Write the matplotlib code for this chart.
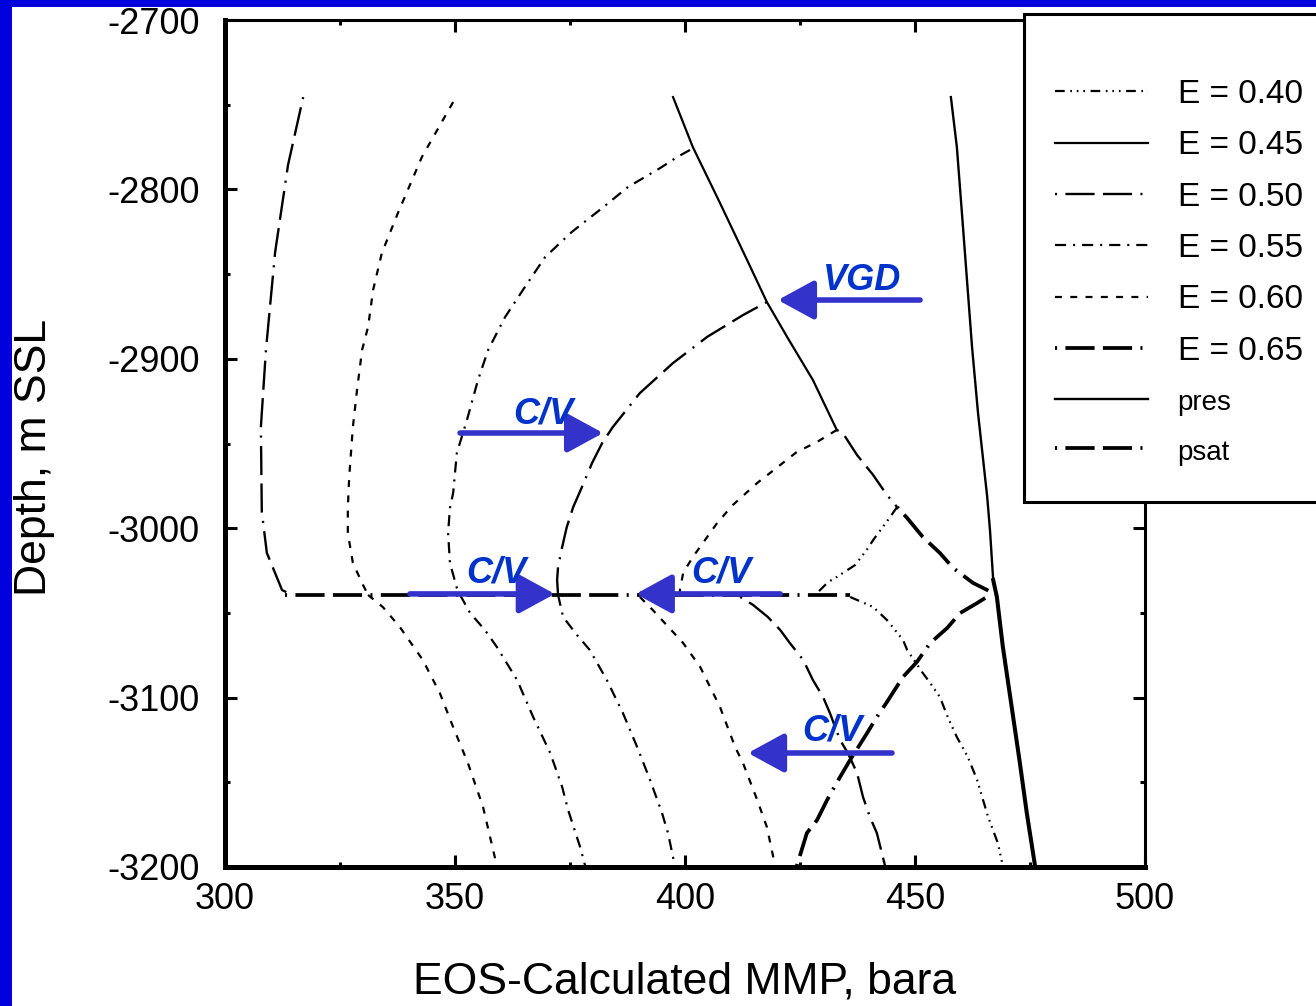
import matplotlib
matplotlib.use('Agg')
import matplotlib.pyplot as plt
from matplotlib.patches import Rectangle
from matplotlib.lines import Line2D

plt.rcParams['font.family'] = ['Liberation Sans', 'DejaVu Sans']
plt.rcParams['lines.scale_dashes'] = False
plt.rcParams['axes.unicode_minus'] = False

# ---------------- data (MMP in bara, depth in m SSL) ----------------
x_ticks = [300, 350, 400, 450, 500]
x_tick_labels = ['300', '350', '400', '450', '500']
y_ticks = [-3200, -3100, -3000, -2900, -2800, -2700]
y_tick_labels = ['-3200', '-3100', '-3000', '-2900', '-2800', '-2700']

legend_keys = ['E040', 'E045', 'E050', 'E055', 'E060', 'E065', 'pres', 'psat']
legend_labels = ['E = 0.40', 'E = 0.45', 'E = 0.50', 'E = 0.55', 'E = 0.60', 'E = 0.65', 'pres', 'psat']

# upper (above psat) branches
a_x = [317.0, 313.7, 310.9, 308.9, 307.8, 308.0, 309.1, 312.4, 314.6]
a_d = [-2745.5, -2785.6, -2837.0, -2894.8, -2940.3, -2990.4, -3014.6, -3036.5, -3039.4]

b_x = [349.6, 342.8, 337.6, 334.1, 332.2, 331.1, 329.8, 328.7, 327.8, 327.0, 326.7, 326.7, 327.8, 330.0, 331.1]
b_d = [-2748.4, -2780.9, -2813.9, -2837.5, -2859.4, -2881.2, -2894.8, -2918.4, -2940.3, -2969.8,
       -2988.1, -3002.8, -3020.5, -3033.5, -3039.4]

c_x = [401.1, 398.3, 394.6, 387.6, 382.0, 375.4, 369.6, 365.2, 360.9, 357.2, 355.0, 352.6, 350.4,
       349.6, 348.9, 348.5, 348.9, 350.4, 351.1]
c_d = [-2776.7, -2780.9, -2787.4, -2798.6, -2811.0, -2825.1, -2839.9, -2857.6, -2875.3, -2894.8,
       -2912.5, -2936.1, -2955.6, -2979.2, -2988.1, -3002.8, -3020.5, -3035.3, -3039.4]

vgd_x = [417.8, 412.6, 404.8, 397.4, 390.2, 384.3, 382.0, 379.8, 377.6, 375.7, 374.3, 373.3, 372.4, 372.2, 372.4]
vgd_d = [-2866.5, -2874.2, -2887.1, -2902.5, -2920.2, -2940.3, -2949.7, -2961.5, -2975.7, -2987.5,
         -2999.3, -3011.1, -3022.9, -3030.6, -3039.4]

e_x = [433.0, 428.7, 424.3, 420.7, 415.7, 410.4, 407.0, 403.9, 401.7, 399.6, 398.9, 398.9]
e_d = [-2942.0, -2949.1, -2955.0, -2962.7, -2973.3, -2986.3, -2996.9, -3008.7, -3017.0, -3026.4, -3036.5, -3039.4]

f_x = [446.1, 444.6, 443.0, 440.9, 439.8, 437.0, 433.0, 431.1, 428.3]
f_d = [-2987.5, -2993.4, -2999.3, -3007.0, -3011.7, -3021.7, -3028.8, -3031.8, -3039.4]

ridge_x = [397.4, 401.7, 407.6, 413.5, 417.8, 422.2, 427.8, 433.0]
ridge_d = [-2745.5, -2775.0, -2808.0, -2841.7, -2866.5, -2887.1, -2912.5, -2942.0]

ridge2_x = [433.0, 434.3, 437.4, 440.9, 443.9, 446.1]
ridge2_d = [-2942.0, -2943.8, -2956.8, -2968.6, -2980.4, -2987.5]

ridge3_x = [446.1, 448.3, 451.7, 455.4, 458.3, 462.6, 465.7, 467.4]
ridge3_d = [-2987.5, -2994.0, -3005.2, -3014.6, -3023.5, -3032.3, -3036.5, -3039.4]

# lower (below psat) branches
l1_x = [331.1, 334.3, 338.0, 343.0, 346.7, 349.6, 352.8, 356.1, 359.1]
l1_d = [-3039.4, -3046.5, -3058.3, -3077.8, -3097.3, -3117.4, -3138.6, -3164.6, -3199.4]

l2_x = [351.1, 353.3, 356.5, 359.1, 363.5, 367.0, 370.7, 373.3, 374.6, 377.2, 378.3]
l2_d = [-3039.4, -3050.1, -3060.1, -3070.1, -3089.6, -3111.5, -3132.7, -3152.8, -3166.4, -3188.2, -3199.4]

l3_x = [372.4, 373.5, 376.5, 379.3, 383.0, 386.5, 389.6, 392.4, 395.0, 396.3, 397.8]
l3_d = [-3039.4, -3052.4, -3063.0, -3071.9, -3089.6, -3109.1, -3129.2, -3148.6, -3168.1, -3179.9, -3199.4]

l4_x = [390.2, 393.0, 397.4, 399.6, 403.3, 407.6, 410.9, 412.6, 415.7, 417.8, 419.6]
l4_d = [-3040.6, -3048.3, -3061.3, -3067.8, -3081.9, -3105.5, -3129.2, -3138.6, -3160.4, -3176.4, -3199.4]

l5_x = [412.0, 414.8, 418.0, 420.7, 422.8, 425.7, 427.8, 430.0, 431.5, 433.7, 435.4, 437.4, 438.7, 440.2, 441.7, 443.5]
l5_d = [-3040.6, -3045.3, -3052.4, -3060.1, -3067.8, -3077.8, -3089.6, -3099.6, -3109.1, -3125.0,
        -3132.7, -3144.5, -3158.7, -3170.5, -3179.9, -3199.4]

l6_x = [435.9, 440.9, 443.9, 447.4, 448.3, 451.7, 453.3, 455.4, 457.2, 459.1, 461.5, 463.5, 465.9, 468.0, 469.1]
l6_d = [-3040.6, -3046.5, -3054.2, -3066.0, -3071.9, -3085.5, -3091.4, -3099.6, -3112.0, -3123.3,
        -3135.1, -3148.6, -3170.5, -3185.8, -3199.4]

r1_x = [424.3, 426.5, 428.7, 430.9, 433.7, 435.9, 439.6, 441.7, 443.9, 447.4, 450.4, 453.3, 457.0, 459.8, 463.5, 466.3]
r1_d = [-3199.4, -3179.9, -3172.3, -3160.4, -3146.9, -3136.8, -3120.9, -3111.5, -3102.6, -3087.8,
        -3079.0, -3067.8, -3058.9, -3050.1, -3044.2, -3039.4]

pres_x = [457.8, 459.1, 460.2, 461.3, 462.4, 463.7, 465.7, 466.3, 467.0, 467.8, 469.1, 470.7, 472.8, 474.3, 476.1]
pres_d = [-2745.5, -2775.0, -2813.9, -2853.5, -2893.0, -2932.0, -2981.6, -3001.1, -3030.6, -3040.6,
          -3070.1, -3099.6, -3138.6, -3168.1, -3199.4]

psat_x = [313.0, 435.9]
psat_d = [-3039.4, -3039.4]

# annotations: label, arrow start x, arrow tip x, arrow depth, label x, label baseline depth
annotations = [
    ('VGD', 451.1, 420.2, -2865.3, 438.5, -2859.4),
    ('C/V', 351.1, 382.2, -2943.8, 369.1, -2937.9),
    ('C/V', 340.2, 371.7, -3038.8, 358.9, -3031.8),
    ('C/V', 420.7, 389.3, -3038.8, 408.0, -3031.8),
    ('C/V', 445.0, 413.7, -3132.7, 432.0, -3125.6),
]

# ---------------- styles ----------------
LONG = (0, (1.5, 6, 21, 6, 21, 6))
STYLE = {
    'E040': dict(linestyle=(0, (7, 4, 1.2, 3.5, 1.2, 3.5, 1.2, 4)), linewidth=1.6),
    'E045': dict(linestyle='-', linewidth=1.6),
    'E050': dict(linestyle=LONG, linewidth=1.7),
    'E055': dict(linestyle=(0, (8, 5, 1.5, 5)), linewidth=1.6),
    'E060': dict(linestyle=(0, (5, 6)), linewidth=1.6),
    'E065': dict(linestyle=LONG, linewidth=2.7),
    'pres': dict(linestyle='-', linewidth=1.7),
    'psat': dict(linestyle=LONG, linewidth=2.7),
}

series = [
    (a_x, a_d, 'E050'), (b_x, b_d, 'E060'), (c_x, c_d, 'E055'), (vgd_x, vgd_d, 'E050'),
    (e_x, e_d, 'E060'), (f_x, f_d, 'E040'), (ridge_x, ridge_d, 'E045'),
    (ridge2_x, ridge2_d, 'E050'), (ridge3_x, ridge3_d, 'E065'),
    (l1_x, l1_d, 'E060'), (l2_x, l2_d, 'E055'), (l3_x, l3_d, 'E055'), (l4_x, l4_d, 'E060'),
    (l5_x, l5_d, 'E050'), (l6_x, l6_d, 'E040'), (r1_x, r1_d, 'E065'),
    (pres_x, pres_d, 'pres'), (psat_x, psat_d, 'psat'),
]

W, H = 1316, 1006
fig = plt.figure(figsize=(W / 100, H / 100), dpi=100)
fig.patch.set_facecolor('#0000DD')
fig.add_artist(Rectangle((12 / W, 0), 1, 1 - 7 / H, transform=fig.transFigure,
                         facecolor='white', edgecolor='none', zorder=-10))

ax = fig.add_axes([225 / W, 1 - 867 / H, 920 / W, 847 / H])
ax.set_facecolor('white')

for xs, ds, key in series:
    ax.plot(xs, ds, color='black', **STYLE[key])
# heavier pres segment below psat
ax.plot(pres_x[8:], pres_d[8:], color='black', linestyle='-', linewidth=2.9)

ax.set_xlim(300, 500)
ax.set_ylim(-3200, -2700)
ax.set_xticks(x_ticks)
ax.set_xticklabels(x_tick_labels)
ax.set_xticks([325, 375, 425, 475], minor=True)
ax.set_yticks(y_ticks)
ax.set_yticklabels(y_tick_labels)
ax.set_yticks([-3150, -3050, -2950, -2850, -2750], minor=True)
ax.tick_params(which='both', direction='in', top=True, right=True, width=2.2, labelsize=26, colors='black')
ax.tick_params(which='major', length=8.6)
ax.tick_params(which='minor', length=3.6)
ax.tick_params(axis='y', pad=18)
ax.tick_params(axis='x', pad=11)
for s in ['left', 'bottom']:
    ax.spines[s].set_linewidth(3.6)
for s in ['top', 'right']:
    ax.spines[s].set_linewidth(2.2)

ax.set_xlabel('EOS-Calculated MMP, bara', fontsize=32, labelpad=32)
ax.set_ylabel('Depth, m SSL', fontsize=32)
ax.yaxis.set_label_coords(-0.185, 0.483)

for label, x0, x1, yv, lx, ly in annotations:
    ax.annotate('', xy=(x1, yv), xytext=(x0, yv),
                arrowprops=dict(arrowstyle='-|>,head_length=1.1,head_width=0.6', mutation_scale=20,
                                color='#3333CC', lw=4.0, shrinkA=0, shrinkB=0), zorder=5)
    ax.text(lx, ly, label, color='#0033CC', fontsize=26, fontweight='bold', fontstyle='italic',
            ha='center', va='baseline', zorder=6)

# legend box
fig.add_artist(Rectangle((1024 / W, 1 - 502 / H), (1340 - 1024) / W, (502 - 14) / H,
                         transform=fig.transFigure, facecolor='white', edgecolor='black',
                         linewidth=2.2, zorder=5))
handles = [Line2D([], [], color='black', **STYLE[k]) for k in legend_keys]
leg = fig.legend(handles, legend_labels, loc='upper left', bbox_to_anchor=(1055 / W, 1 - 79 / H),
                 frameon=False, fontsize=24, handlelength=2.78, handletextpad=0.9,
                 labelspacing=0.61, borderpad=0, borderaxespad=0)
leg.set_zorder(6)
for t in leg.get_texts()[6:]:
    t.set_fontsize(20)

fig.savefig('out.png', dpi=100, facecolor=fig.get_facecolor())
